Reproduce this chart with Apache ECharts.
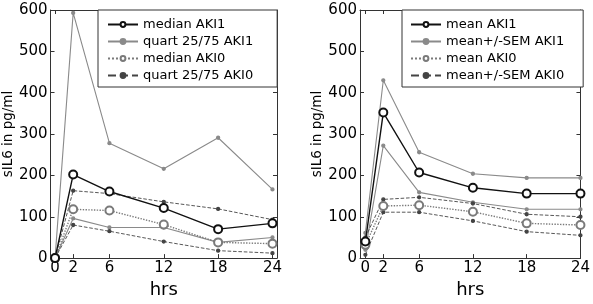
<!DOCTYPE html>
<html><head><meta charset="utf-8">
<script src="https://cdn.jsdelivr.net/npm/echarts@6/dist/echarts.min.js"></script>
<style>html,body{margin:0;padding:0;background:#fff}#c{width:593px;height:304px}</style>
</head><body><div id="c"></div>
<script>
var hours = [0, 2, 6, 12, 18, 24];
var xTicks = [0, 2, 6, 12, 18, 24];
var yTicks = [0, 100, 200, 300, 400, 500, 600];

// Left panel: medians and quartiles
var medianAKI1 = [0, 202, 161, 121, 70, 84];
var quart75AKI1 = [0, 593, 278, 216, 291, 166];
var quart25AKI1 = [0, 96, 74, 74, 38, 50];
var medianAKI0 = [0, 118, 115, 81, 38, 35];
var quart75AKI0 = [0, 163, 156, 136, 119, 93];
var quart25AKI0 = [0, 80, 65, 40, 18, 12];

// Right panel: means and SEM
var meanAKI1 = [40, 352, 207, 170, 156, 156];
var semUpAKI1 = [61, 430, 256, 204, 194, 194];
var semLoAKI1 = [20, 272, 159, 135, 118, 118];
var meanAKI0 = [32, 126, 128, 112, 84, 80];
var semUpAKI0 = [50, 142, 147, 132, 106, 100];
var semLoAKI0 = [8, 111, 111, 90, 64, 55];

function pts(arr){ return hours.map(function(h,i){ return [h, arr[i]]; }); }

var FONT = 'DejaVu Sans';
var AX = '#333';

function xAx(gi, min, max, show){
  return {
    type:'value', gridIndex:gi, min:min, max:max, position: show ? 'bottom':'top',
    name: show ? 'hrs' : '', nameLocation:'middle', nameGap:16,
    nameTextStyle:{fontFamily:FONT, fontSize:18, color:'#000'},
    axisLine:{show:true, onZero:false, lineStyle:{color:AX, width:1}},
    axisTick:{show:true, inside:true, length:4, customValues:xTicks, lineStyle:{color:AX}},
    axisLabel:{show:show, customValues:xTicks, fontFamily:FONT, fontSize:15, color:'#000', margin:3},
    splitLine:{show:false}
  };
}
function yAx(gi, show){
  return {
    type:'value', gridIndex:gi, min:0, max:600, interval:100, position: show ? 'left':'right',
    name: show ? 'sIL6 in pg/ml' : '', nameLocation:'middle', nameGap:30,
    nameTextStyle:{fontFamily:FONT, fontSize:13.5, color:'#000'},
    axisLine:{show:true, onZero:false, lineStyle:{color:AX, width:1}},
    axisTick:{show:true, inside:true, length:4, lineStyle:{color:AX}},
    axisLabel:{show:show, fontFamily:FONT, fontSize:15, color:'#000', margin:3},
    splitLine:{show:false}
  };
}

var styles = {
  medCircBlack:{color:'#111', type:'solid', width:1.4, symbol:'emptyCircle', size:8},
  quartGray:{color:'#8a8a8a', type:'solid', width:1.1, symbol:'circle', size:3},
  medCircGray:{color:'#7a7a7a', type:'dotted', width:1.4, symbol:'emptyCircle', size:8},
  quartDash:{color:'#444', type:'dashed', width:0.9, symbol:'circle', size:3}
};

function ser(name, data, st, xi, yi){
  return {
    type:'line', name:name, data:pts(data), xAxisIndex:xi, yAxisIndex:yi,
    symbol:st.symbol, symbolSize:st.size, showSymbol:true,
    lineStyle:{color:st.color, type:st.type, width:st.width},
    itemStyle:{color:st.color, borderColor:st.color, borderWidth:1.3},
    emphasis:{disabled:true}, animation:false, z: st.symbol==='emptyCircle'?3:2
  };
}

var legendBase = {
  orient:'vertical', itemWidth:30, itemHeight:6, itemGap:2,
  backgroundColor:'#fff', borderColor:'#333', borderWidth:1,
  textStyle:{fontFamily:FONT, fontSize:13, color:'#000', lineHeight:15}
};

var option = {
  animation:false,
  grid:[
    {left:45.5, right:316, top:10, bottom:33},
    {left:360, right:6, top:10, bottom:33}
  ],
  legend:[
    Object.assign({}, legendBase, {left:98, top:10, padding:[7,24,4,9],
      data:['median AKI1','quart 25/75 AKI1','median AKI0','quart 25/75 AKI0']}),
    Object.assign({}, legendBase, {left:402, top:10, padding:[7,19,4,8],
      data:['mean AKI1','mean+/-SEM AKI1','mean AKI0','mean+/-SEM AKI0']})
  ],
  xAxis:[ xAx(0,-0.5,24.5,true), xAx(0,-0.5,24.5,false), xAx(1,-0.6,24,true), xAx(1,-0.6,24,false) ],
  yAxis:[ yAx(0,true), yAx(0,false), yAx(1,true), yAx(1,false) ],
  series:[
    ser('quart 25/75 AKI1', quart75AKI1, styles.quartGray, 0, 0),
    ser('quart 25/75 AKI1', quart25AKI1, styles.quartGray, 0, 0),
    ser('quart 25/75 AKI0', quart75AKI0, styles.quartDash, 0, 0),
    ser('quart 25/75 AKI0', quart25AKI0, styles.quartDash, 0, 0),
    ser('median AKI0', medianAKI0, styles.medCircGray, 0, 0),
    ser('median AKI1', medianAKI1, styles.medCircBlack, 0, 0),
    ser('mean+/-SEM AKI1', semUpAKI1, styles.quartGray, 2, 2),
    ser('mean+/-SEM AKI1', semLoAKI1, styles.quartGray, 2, 2),
    ser('mean+/-SEM AKI0', semUpAKI0, styles.quartDash, 2, 2),
    ser('mean+/-SEM AKI0', semLoAKI0, styles.quartDash, 2, 2),
    ser('mean AKI0', meanAKI0, styles.medCircGray, 2, 2),
    ser('mean AKI1', meanAKI1, styles.medCircBlack, 2, 2)
  ]
};
var chart = echarts.init(document.getElementById('c'), null, {renderer:'canvas'});
chart.setOption(option);
</script></body></html>
